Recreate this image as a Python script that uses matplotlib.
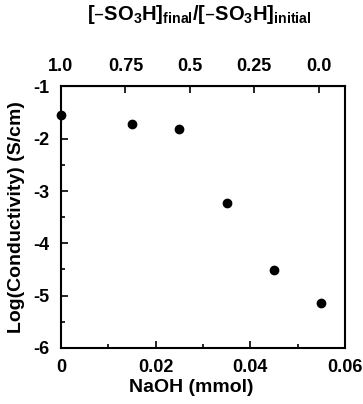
import matplotlib
matplotlib.use("Agg")
from matplotlib import pyplot as plt
import matplotlib.ticker as tck

plt.rcParams.update({
    "font.family": "Liberation Sans",
    "font.weight": "bold",
    "axes.labelweight": "bold",
    "font.size": 13,
    "axes.unicode_minus": False,
    "mathtext.default": "regular",
})

# data
naoh = [0.0, 0.015, 0.025, 0.035, 0.045, 0.055]
log_cond = [-1.55, -1.72, -1.81, -3.23, -4.52, -5.15]

# top axis: fraction of -SO3H left, 1.0 at 0 mmol, 0.0 at X_END mmol
X_END = 0.0545
frac_ticks = [1.0, 0.75, 0.5, 0.25, 0.0]
frac_labels = ["1.0", "0.75", "0.5", "0.25", "0.0"]

fig = plt.figure(figsize=(3.63, 4.04), dpi=100)
ax = fig.add_axes([0.168, 0.139, 0.782, 0.647])
ax.plot(naoh, log_cond, "o", color="black", markersize=6, clip_on=False, zorder=5)

ax.set_xlim(0, 0.06)
ax.set_ylim(-6, -1)
ax.set_xticks([0, 0.02, 0.04, 0.06])
ax.set_xticklabels(["0", "0.02", "0.04", "0.06"])
ax.set_yticks([-1, -2, -3, -4, -5, -6])
ax.set_yticklabels(["-1", "-2", "-3", "-4", "-5", "-6"])
ax.xaxis.set_minor_locator(tck.MultipleLocator(0.01))
ax.yaxis.set_minor_locator(tck.MultipleLocator(0.5))
ax.tick_params(axis="both", which="both", direction="in", width=1.2)
ax.tick_params(axis="both", which="major", length=5, pad=8)
ax.tick_params(axis="both", which="minor", length=3)
ax.tick_params(axis="x", which="both", top=False)
for s in ax.spines.values():
    s.set_linewidth(1.5)

ax.set_xlabel("NaOH (mmol)", labelpad=2, fontsize=14)
ax.xaxis.label.set_x(0.46)
ax.set_ylabel("Log(Conductivity) (S/cm)", labelpad=6, fontsize=14)

sec = ax.secondary_xaxis("top", functions=(lambda x: 1 - x / X_END,
                                           lambda f: (1 - f) * X_END))
sec.set_xticks(frac_ticks)
sec.set_xticklabels(frac_labels)
sec.tick_params(direction="in", length=5, width=1.2, pad=8)

fig.text(0.55, 0.963,
         "[\u2013SO$_3$H]$_{final}$/[\u2013SO$_3$H]$_{initial}$",
         ha="center", va="center", fontsize=14.5, fontweight="bold")

fig.savefig("out.png", dpi=100)
